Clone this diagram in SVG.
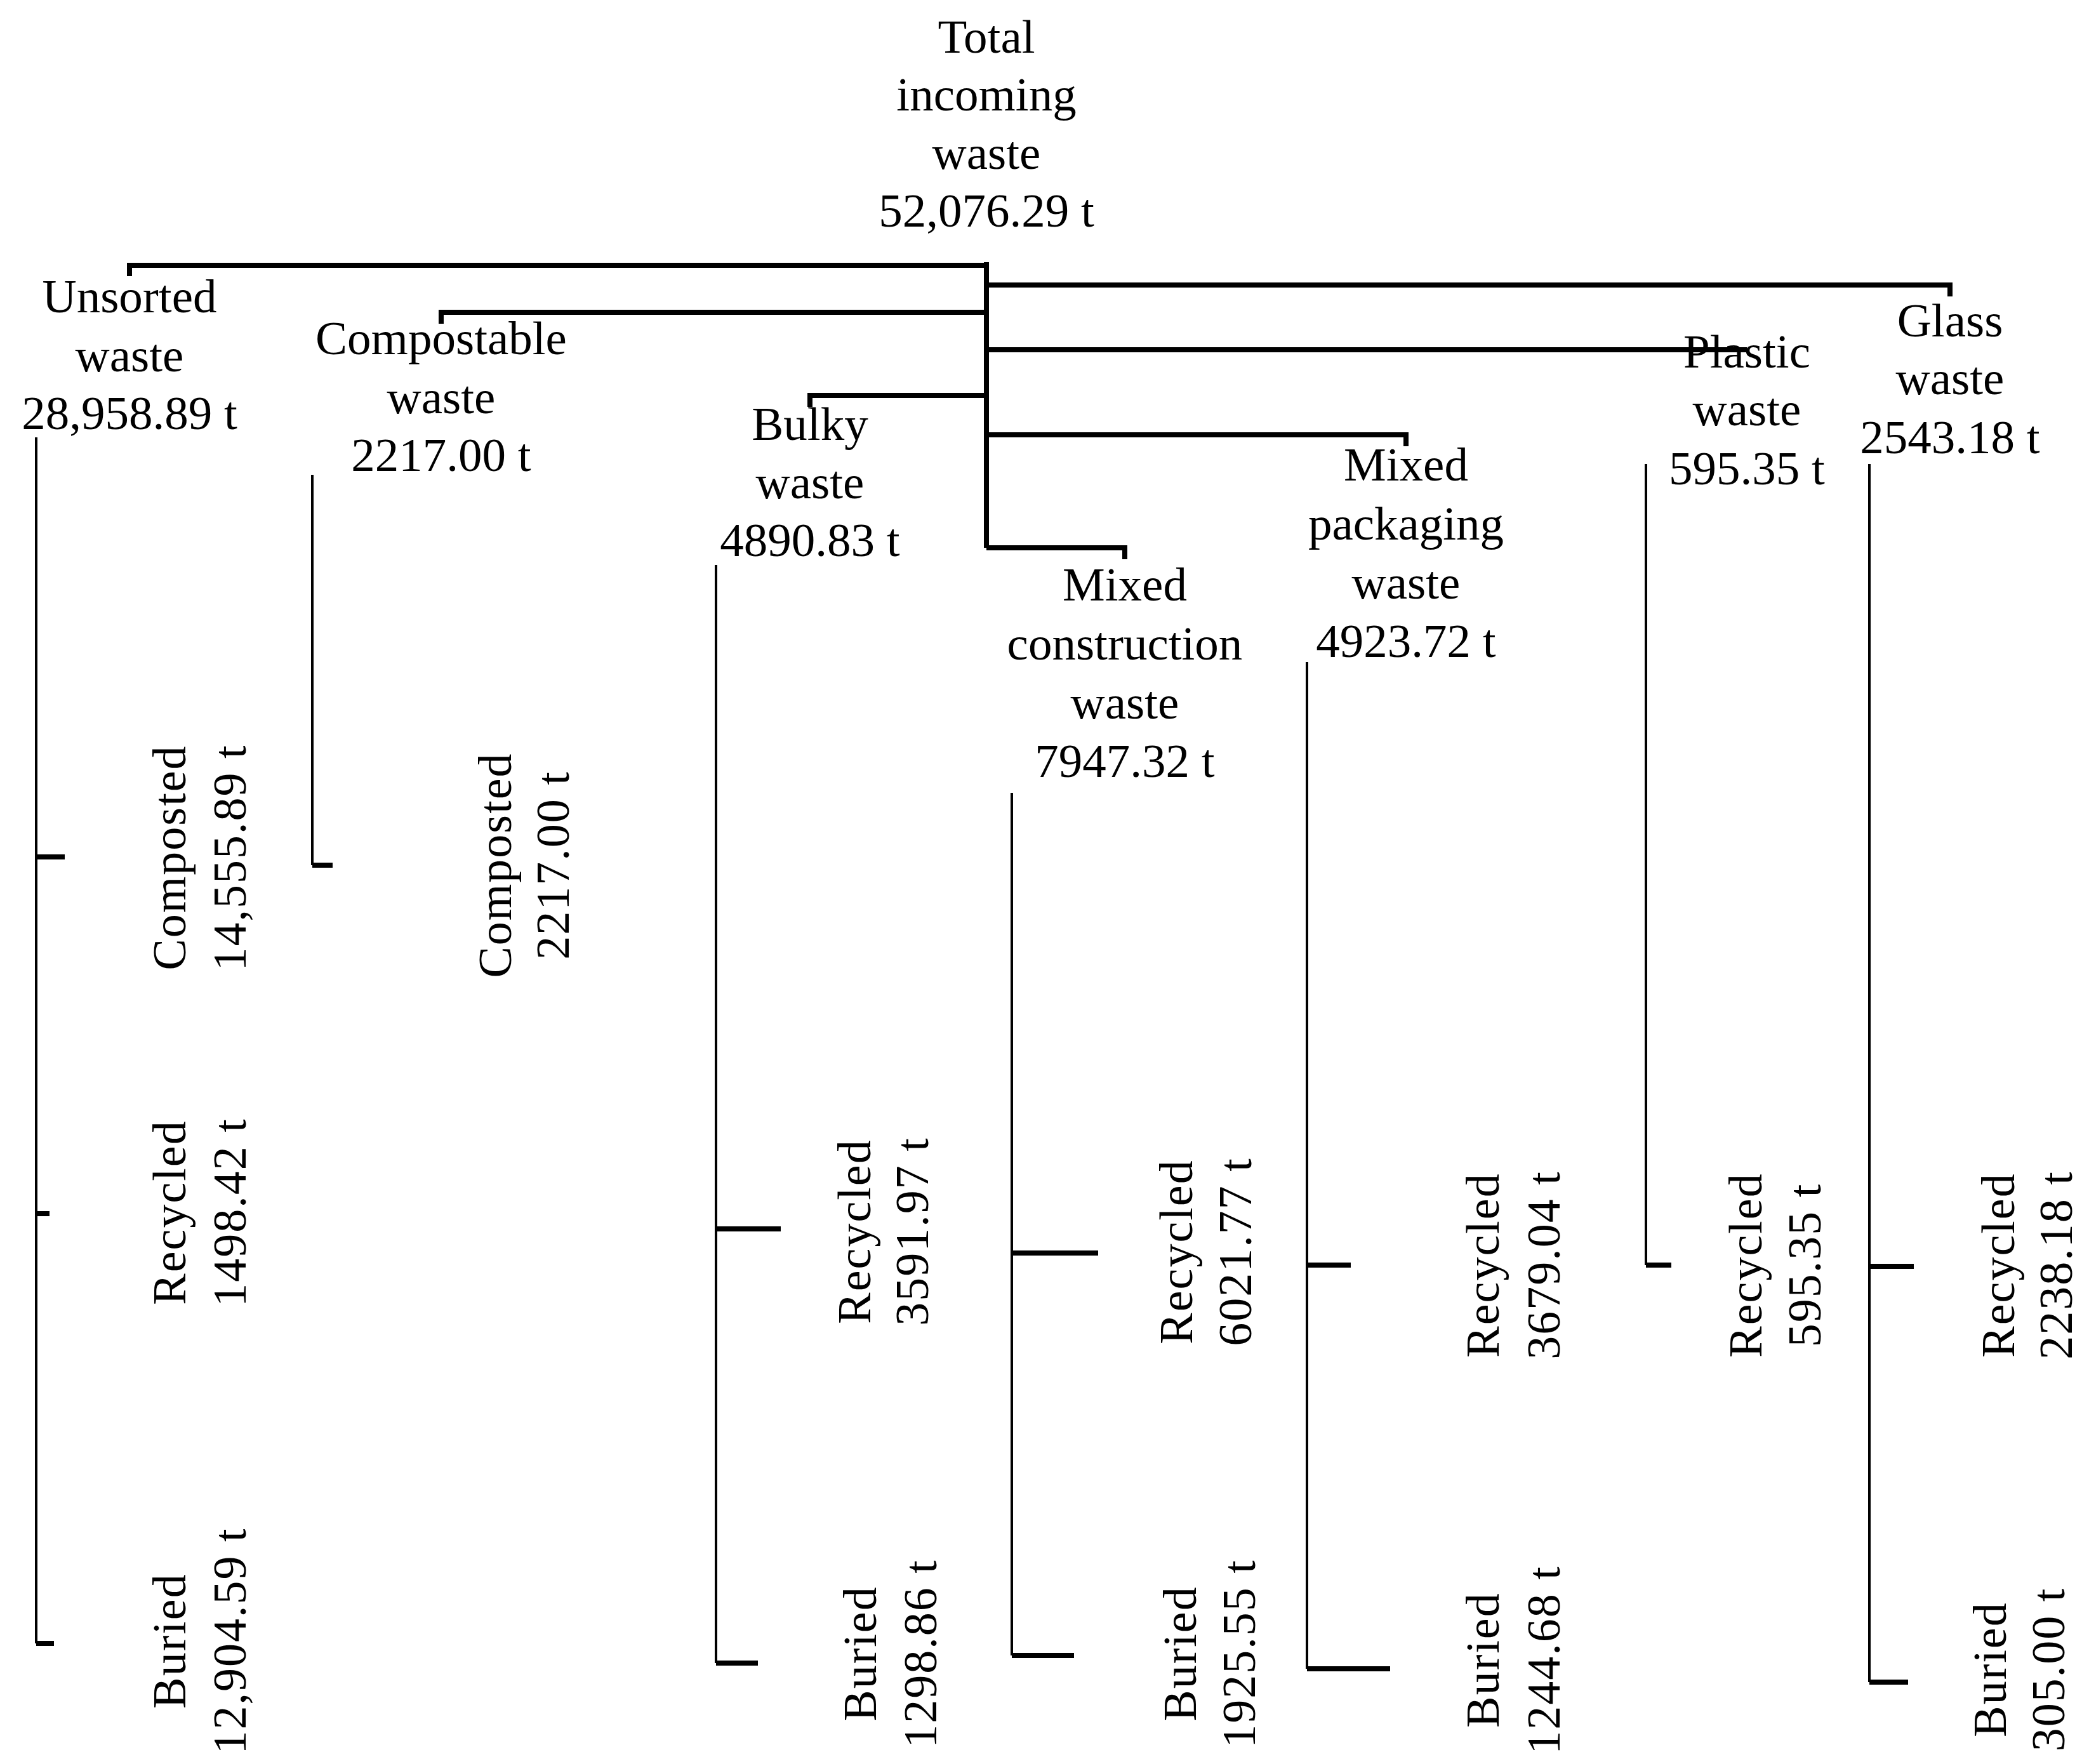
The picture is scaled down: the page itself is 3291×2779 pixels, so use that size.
<svg xmlns="http://www.w3.org/2000/svg" width="3291" height="2779" viewBox="0 0 3291 2779">
<style>
text{font-family:"Liberation Serif","Times New Roman",serif;fill:#000}
.h{font-size:75px;text-anchor:middle}
.r{font-size:74px;text-anchor:middle;letter-spacing:2px}
.t{stroke:#000;stroke-width:8;fill:none}
.v{stroke:#000;stroke-width:4;fill:none}
</style>
<rect width="3291" height="2779" fill="#fff"/>
<g id="connectors">
<path class="t" d="M1554 413V863M204 435V418H1554M3072 467V449H1554M695 510V492H1554M2752 551H1554M1276 641V623H1554M2215 703V685H1554M1772 881V863H1554"/>
<path class="v" d="M57 689V2589M492 748V1363M1128 890V2620M1594 1249V2608M2059 1043V2629M2593 731V1993M2945 731V2650"/>
<path class="t" d="M57 1350H102M57 1912H78M57 2589H85M492 1363H524M1128 1936H1230M1128 2620H1194M1594 1974H1730M1594 2608H1692M2059 1993H2128M2059 2629H2190M2593 1993H2633M2945 1995H3015M2945 2650H3006"/>
</g>
<g id="total"><text class="h" x="1554" y="83">Total</text><text class="h" x="1554" y="174">incoming</text><text class="h" x="1554" y="266">waste</text><text class="h" x="1554" y="357">52,076.29 t</text></g>
<g id="unsorted"><text class="h" x="204" y="492">Unsorted</text><text class="h" x="204" y="585">waste</text><text class="h" x="204" y="676">28,958.89 t</text></g>
<g id="compostable"><text class="h" x="695" y="558">Compostable</text><text class="h" x="695" y="651">waste</text><text class="h" x="695" y="742">2217.00 t</text></g>
<g id="bulky"><text class="h" x="1276" y="693">Bulky</text><text class="h" x="1276" y="785">waste</text><text class="h" x="1276" y="876">4890.83 t</text></g>
<g id="construction"><text class="h" x="1772" y="946">Mixed</text><text class="h" x="1772" y="1039">construction</text><text class="h" x="1772" y="1132">waste</text><text class="h" x="1772" y="1224">7947.32 t</text></g>
<g id="packaging"><text class="h" x="2215" y="757">Mixed</text><text class="h" x="2215" y="850">packaging</text><text class="h" x="2215" y="943">waste</text><text class="h" x="2215" y="1035">4923.72 t</text></g>
<g id="plastic"><text class="h" x="2752" y="579">Plastic</text><text class="h" x="2752" y="670">waste</text><text class="h" x="2752" y="763">595.35 t</text></g>
<g id="glass"><text class="h" x="3072" y="530">Glass</text><text class="h" x="3072" y="621">waste</text><text class="h" x="3072" y="714">2543.18 t</text></g>
<g id="u-composted" transform="translate(0 1351) rotate(-90)"><text class="r" x="0" y="292">Composted</text><text class="r" x="0" y="387">14,555.89 t</text></g>
<g id="u-recycled" transform="translate(0 1910) rotate(-90)"><text class="r" x="0" y="292">Recycled</text><text class="r" x="0" y="387">1498.42 t</text></g>
<g id="u-buried" transform="translate(0 2585) rotate(-90)"><text class="r" x="0" y="292">Buried</text><text class="r" x="0" y="387">12,904.59 t</text></g>
<g id="c-composted" transform="translate(0 1363) rotate(-90)"><text class="r" x="0" y="805">Composted</text><text class="r" x="0" y="896">2217.00 t</text></g>
<g id="b-recycled" transform="translate(0 1940) rotate(-90)"><text class="r" x="0" y="1371">Recycled</text><text class="r" x="0" y="1462">3591.97 t</text></g>
<g id="b-buried" transform="translate(0 2605) rotate(-90)"><text class="r" x="0" y="1380">Buried</text><text class="r" x="0" y="1475">1298.86 t</text></g>
<g id="mc-recycled" transform="translate(0 1972) rotate(-90)"><text class="r" x="0" y="1878">Recycled</text><text class="r" x="0" y="1971">6021.77 t</text></g>
<g id="mc-buried" transform="translate(0 2605) rotate(-90)"><text class="r" x="0" y="1884">Buried</text><text class="r" x="0" y="1977">1925.55 t</text></g>
<g id="mp-recycled" transform="translate(0 1993) rotate(-90)"><text class="r" x="0" y="2361">Recycled</text><text class="r" x="0" y="2457">3679.04 t</text></g>
<g id="mp-buried" transform="translate(0 2615) rotate(-90)"><text class="r" x="0" y="2361">Buried</text><text class="r" x="0" y="2457">1244.68 t</text></g>
<g id="p-recycled" transform="translate(0 1993) rotate(-90)"><text class="r" x="0" y="2775">Recycled</text><text class="r" x="0" y="2868">595.35 t</text></g>
<g id="g-recycled" transform="translate(0 1993) rotate(-90)"><text class="r" x="0" y="3173">Recycled</text><text class="r" x="0" y="3264">2238.18 t</text></g>
<g id="g-buried" transform="translate(0 2630) rotate(-90)"><text class="r" x="0" y="3160">Buried</text><text class="r" x="0" y="3252">305.00 t</text></g>
</svg>
